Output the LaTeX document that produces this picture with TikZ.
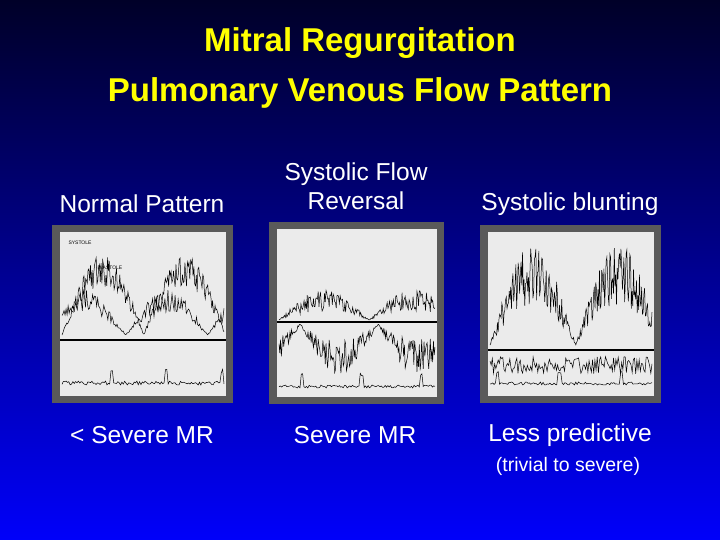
\documentclass[tikz,border=0pt]{standalone}
\usepackage{fontspec}
\setmainfont{Liberation Sans}
\definecolor{navytop}{RGB}{0,0,40}
\definecolor{bluebot}{RGB}{0,0,250}
\definecolor{titleyellow}{RGB}{255,255,0}
\definecolor{framegray}{RGB}{90,90,90}
\definecolor{filmwhite}{RGB}{235,235,235}
\tikzset{
  titletext/.style={text=titleyellow, font=\fontsize{33}{38}\selectfont\bfseries},
  labeltext/.style={text=white, font=\fontsize{24.5}{29}\selectfont},
  smalltext/.style={text=white, font=\fontsize{19.5}{23}\selectfont},
  panel/.style={fill=framegray, draw=none},
  film/.style={fill=filmwhite, draw=none},
  trace/.style={black, line width=0.5pt}
}
\begin{document}
\begin{tikzpicture}[x=1pt,y=-1pt]
  \pgfmathsetseed{7}
  % background
  \shade[top color=navytop, bottom color=bluebot] (0,0) rectangle (720,540);
  \useasboundingbox (0,0) rectangle (720,540);

  % title
  \node[titletext] (title1) at (360,43) {Mitral Regurgitation};
  \node[titletext] (title2) at (360,93) {Pulmonary Venous Flow Pattern};

  % column headings
  \node[labeltext] (headA) at (142,204) {Normal Pattern};
  \node[labeltext, align=center] (headB) at (356,186) {Systolic Flow\\Reversal};
  \node[labeltext] (headC) at (570,204) {Systolic blunting};

  % panels
  \fill[panel] (52,225) rectangle (233,403);
  \fill[film] (60,232) rectangle (226,396);
  \fill[panel] (269,222) rectangle (444,404);
  \fill[film] (277,229) rectangle (437,397);
  \fill[panel] (480,225) rectangle (661,403);
  \fill[film] (488,232) rectangle (654,396);

  % normal pattern traces
  \draw[trace] plot[domain=62:224, samples=200]
    (\x, {335 - 80*abs(sin(2.2*(\x-62)))*(0.6+0.4*rnd)});
  \draw[trace] plot[domain=62:224, samples=160]
    (\x, {335 - 45*abs(sin(2.2*(\x-62)+40))*(0.5+0.5*rnd)});
  \draw[line width=1.2pt] (60,340) -- (226,340);
  \draw[trace] plot[domain=62:224, samples=120]
    (\x, {385 - 4*rnd - 12*(mod(\x,55)<3)});
  \node[font=\tiny] (sysA) at (80,243) {SYSTOLE};
  \node[font=\tiny] (diaA) at (110,268) {DIASTOLE};

  % flow reversal traces
  \draw[trace] plot[domain=279:435, samples=200]
    (\x, {320 - 30*abs(sin(2*(\x-279)))*(0.3+0.7*rnd)});
  \draw[line width=1.2pt] (277,322) -- (437,322);
  \draw[trace] plot[domain=279:435, samples=200]
    (\x, {324 + 50*abs(sin(2.3*(\x-300)))*(0.3+0.7*rnd)});
  \draw[trace] plot[domain=279:435, samples=120]
    (\x, {388 - 3*rnd - 12*(mod(\x,60)<3)});

  % blunting traces
  \draw[trace] plot[domain=490:652, samples=220]
    (\x, {345 - 100*abs(sin(2.1*(\x-490)))*(0.4+0.6*rnd)});
  \draw[line width=1.2pt] (488,350) -- (654,350);
  \draw[trace] plot[domain=490:652, samples=140]
    (\x, {356 + 18*rnd});
  \draw[trace] plot[domain=490:652, samples=120]
    (\x, {385 - 3*rnd - 12*(mod(\x,62)<3)});

  % captions
  \node[labeltext] (capA) at (142,435) {< Severe MR};
  \node[labeltext] (capB) at (355,435) {Severe MR};
  \node[labeltext] (capC) at (570,435) {Less predictive};
  \node[smalltext] (noteC) at (568,466) {(trivial to severe)};
\end{tikzpicture}
\end{document}
